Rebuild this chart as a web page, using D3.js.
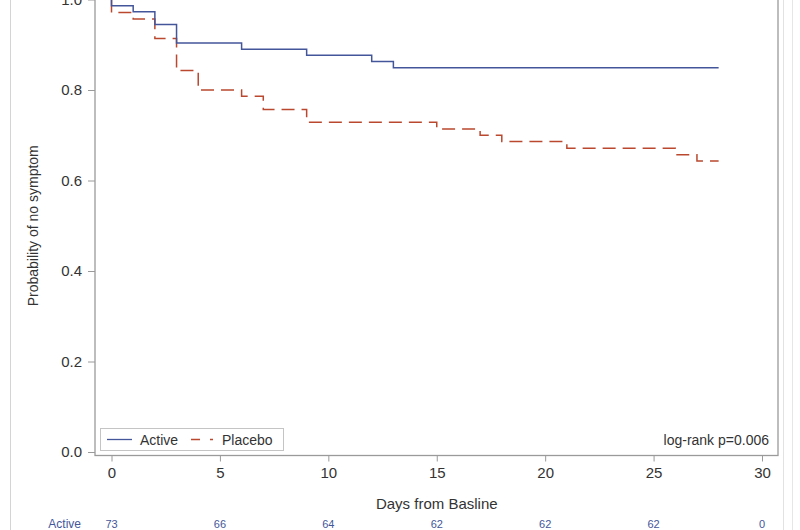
<!DOCTYPE html>
<html>
<head>
<meta charset="utf-8">
<script src="https://cdn.jsdelivr.net/npm/d3@7"></script>
<style>
  html, body { margin: 0; padding: 0; background: #fff; }
  svg { display: block; font-family: "Liberation Sans", Arial, sans-serif; }
</style>
</head>
<body>
<svg id="chart" width="800" height="530"></svg>
<script>
// ---- data ----
const activeDays  = [0, 0, 1, 2, 3, 6, 9, 12, 13, 28];
const activeSurv  = [1.0, 0.986, 0.973, 0.945, 0.904, 0.890, 0.877, 0.863, 0.849, 0.849];
const placeboDays = [0, 0, 1, 2, 3, 4, 6, 7, 9, 15, 17, 18, 21, 26, 27, 28];
const placeboSurv = [1.0, 0.971, 0.957, 0.914, 0.843, 0.800, 0.786, 0.757, 0.729, 0.714, 0.700, 0.686, 0.671, 0.657, 0.643, 0.643];
const xTicks = [0, 5, 10, 15, 20, 25, 30];
const yTicks = [0.0, 0.2, 0.4, 0.6, 0.8, 1.0];
const riskDays = [0, 5, 10, 15, 20, 25, 30];
const riskActive = [73, 66, 64, 62, 62, 62, 0];
const seriesNames = ["Active", "Placebo"];
const pValueText = "log-rank p=0.006";

// ---- layout ----
const svg = d3.select("#chart");
const blue = "#44569a";
const red = "#b9482e";
const axisGray = "#9a9a9a";
const textGray = "#333";

const x = d3.scaleLinear().domain([0, 30]).range([111.5, 762]);
const y = d3.scaleLinear().domain([0, 1]).range([452, -0.5]);

const frame = { left: 95, right: 778, top: -20, bottom: 455.5 };

// faint outer screenshot borders
svg.append("line").attr("x1", 10.5).attr("x2", 10.5).attr("y1", 0).attr("y2", 530)
  .attr("stroke", "#d4d4d4").attr("stroke-width", 1);
svg.append("line").attr("x1", 783.5).attr("x2", 783.5).attr("y1", 0).attr("y2", 530)
  .attr("stroke", "#e2e2e2").attr("stroke-width", 1);
svg.append("line").attr("x1", 792.5).attr("x2", 792.5).attr("y1", 0).attr("y2", 530)
  .attr("stroke", "#e6e6e6").attr("stroke-width", 1);

// frame
svg.append("rect")
  .attr("x", frame.left).attr("y", frame.top)
  .attr("width", frame.right - frame.left).attr("height", frame.bottom - frame.top)
  .attr("fill", "none").attr("stroke", axisGray).attr("stroke-width", 1.3);

// y axis
const yAxis = d3.axisLeft(y).tickValues(yTicks).tickFormat(d3.format(".1f")).tickSize(7).tickPadding(6);
const gy = svg.append("g").attr("transform", `translate(${frame.left},0)`).call(yAxis);
gy.select(".domain").remove();
gy.selectAll(".tick line").attr("stroke", axisGray);
gy.selectAll(".tick text").attr("fill", textGray).style("font-size", "15px")
  .style("font-family", "'Liberation Sans', Arial, sans-serif");

// x axis
const xAxis = d3.axisBottom(x).tickValues(xTicks).tickFormat(d3.format("d")).tickSize(6).tickPadding(6);
const gx = svg.append("g").attr("transform", `translate(0,${frame.bottom})`).call(xAxis);
gx.select(".domain").remove();
gx.selectAll(".tick line").attr("stroke", axisGray);
gx.selectAll(".tick text").attr("fill", textGray).style("font-size", "15px")
  .style("font-family", "'Liberation Sans', Arial, sans-serif");

// axis titles
svg.append("text")
  .attr("transform", `translate(38,${y(0.5)}) rotate(-90)`)
  .attr("text-anchor", "middle")
  .attr("fill", textGray).style("font-size", "14px")
  .text("Probability of no symptom");

svg.append("text")
  .attr("x", x(15)).attr("y", 509)
  .attr("text-anchor", "middle")
  .attr("fill", textGray).style("font-size", "15px")
  .text("Days from Basline");

// curves
const line = d3.line().x(d => x(d[0])).y(d => y(d[1])).curve(d3.curveStepAfter);
const placeboData = placeboDays.map((d, i) => [d, placeboSurv[i]]);
const activeData = activeDays.map((d, i) => [d, activeSurv[i]]);

svg.append("path").datum(placeboData)
  .attr("d", line).attr("fill", "none")
  .attr("stroke", red).attr("stroke-width", 1.5)
  .attr("stroke-dasharray", "13,7");

svg.append("path").datum(activeData)
  .attr("d", line).attr("fill", "none")
  .attr("stroke", blue).attr("stroke-width", 1.5);

// legend
const lg = svg.append("g");
lg.append("rect").attr("x", 100.5).attr("y", 428.5).attr("width", 183).attr("height", 22)
  .attr("fill", "#fff").attr("stroke", "#c4c4c4").attr("stroke-width", 1);
lg.append("line").attr("x1", 107).attr("x2", 132).attr("y1", 439.5).attr("y2", 439.5)
  .attr("stroke", blue).attr("stroke-width", 1.3);
lg.append("text").attr("x", 140).attr("y", 444.5).attr("fill", textGray)
  .style("font-size", "14px").text(seriesNames[0]);
lg.append("line").attr("x1", 191).attr("x2", 213).attr("y1", 439.5).attr("y2", 439.5)
  .attr("stroke", red).attr("stroke-width", 1.3).attr("stroke-dasharray", "9,10,3");
lg.append("text").attr("x", 222).attr("y", 444.5).attr("fill", textGray)
  .style("font-size", "14px").text(seriesNames[1]);

// p-value
svg.append("text").attr("x", 769).attr("y", 445).attr("text-anchor", "end")
  .attr("fill", textGray).style("font-size", "14px").text(pValueText);

// risk table
svg.append("text").attr("x", 81).attr("y", 528).attr("text-anchor", "end")
  .attr("fill", blue).style("font-size", "12px").text(seriesNames[0]);
svg.append("g").selectAll("text").data(riskDays).join("text")
  .attr("x", d => x(d)).attr("y", 528).attr("text-anchor", "middle")
  .attr("fill", blue).style("font-size", "11px")
  .text((d, i) => riskActive[i]);
</script>
</body>
</html>
